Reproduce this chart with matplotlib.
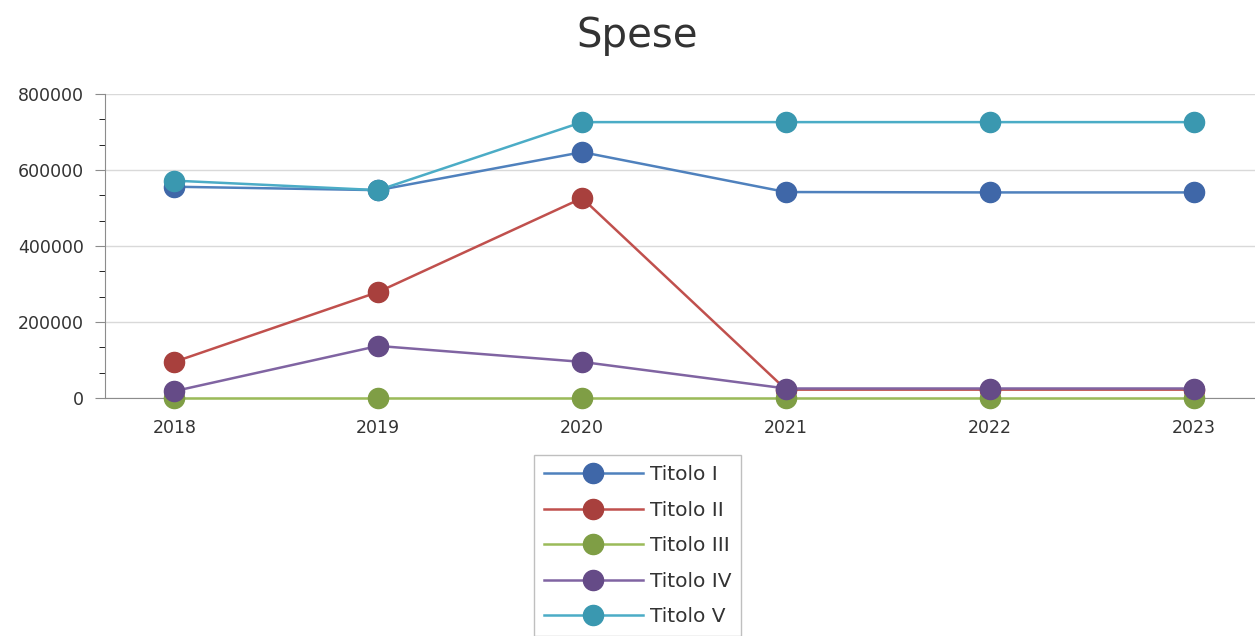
import matplotlib.pyplot as plt
from matplotlib.ticker import AutoMinorLocator, MultipleLocator

years = ['2018', '2019', '2020', '2021', '2022', '2023']

titolo_i = [556000, 547000, 647000, 542000, 541000, 541000]
titolo_ii = [95000, 279000, 526000, 22000, 22000, 22000]
titolo_iii = [1000, 1000, 1000, 1000, 1000, 1000]
titolo_iv = [18000, 137000, 95000, 25000, 25000, 25000]
titolo_v = [572000, 547000, 726000, 726000, 726000, 726000]

series_names = ['Titolo I', 'Titolo II', 'Titolo III', 'Titolo IV', 'Titolo V']
series_values = [titolo_i, titolo_ii, titolo_iii, titolo_iv, titolo_v]
line_colors = ['#4f81bd', '#c0504d', '#9bbb59', '#8064a2', '#4bacc6']
marker_colors = ['#3f67a8', '#a8403d', '#7f9e45', '#654b87', '#3a98b0']

plt.rcParams['font.family'] = ['DejaVu Sans']

fig = plt.figure(figsize=(12.55, 6.36), dpi=100)
ax = fig.add_axes([105 / 1255, 1 - 398 / 636, 1150 / 1255, 304 / 636])

x = list(range(len(years)))
for name, vals, lc, mc in zip(series_names, series_values, line_colors, marker_colors):
    ax.plot(x, vals, color=lc, lw=1.8, marker='o', markersize=14.5,
            markerfacecolor=mc, markeredgecolor=mc, label=name,
            clip_on=False, zorder=3)

ax.set_xlim(-0.34, 5.3)
ax.set_ylim(0, 800000)
ax.set_xticks(x)
ax.set_xticklabels(years)
ax.yaxis.set_major_locator(MultipleLocator(200000))
ax.yaxis.set_minor_locator(AutoMinorLocator(3))
ax.grid(axis='y', color='#d9d9d9', lw=1)
ax.set_axisbelow(True)

for s in ['top', 'right']:
    ax.spines[s].set_visible(False)
for s in ['left', 'bottom']:
    ax.spines[s].set_color('#8c8c8c')
ax.tick_params(axis='both', colors='#8c8c8c', labelcolor='#333333', labelsize=12.5)
ax.tick_params(axis='y', which='major', length=7, pad=8)
ax.tick_params(axis='y', which='minor', length=4)
ax.tick_params(axis='x', length=7, pad=8)

fig.text(637 / 1255, 1 - 36 / 636, 'Spese', ha='center', va='center',
         fontsize=29, color='#333333')

leg = fig.legend(loc='upper left', bbox_to_anchor=(534 / 1255, 1 - 455 / 636),
                 fontsize=14.5, handlelength=4.9, handletextpad=0.35,
                 labelspacing=0.82, frameon=True, fancybox=False,
                 borderaxespad=0, borderpad=0.5)
leg.get_frame().set_edgecolor('#b0b0b0')
leg.get_frame().set_linewidth(1)
for t in leg.get_texts():
    t.set_color('#333333')

fig.savefig('out.png', dpi=100)
